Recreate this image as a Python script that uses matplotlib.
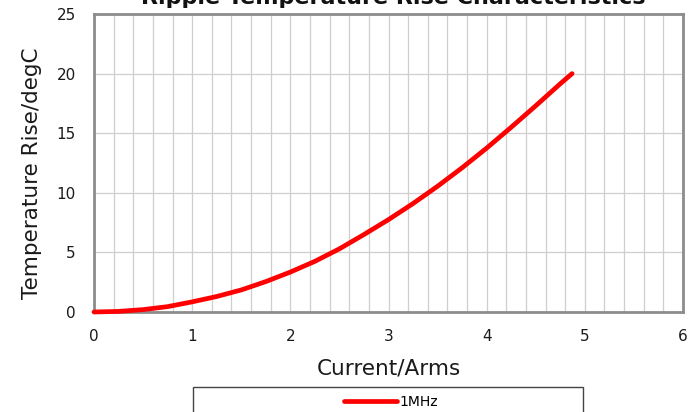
import matplotlib
matplotlib.use("Agg")
import matplotlib.pyplot as plt
from matplotlib.patches import Rectangle
import numpy as np

current = [0, 0.25, 0.5, 0.75, 1.0, 1.25, 1.5, 1.75, 2.0, 2.25, 2.5, 2.75,
           3.0, 3.25, 3.5, 3.75, 4.0, 4.25, 4.5, 4.75, 4.87]
temp_rise = [0, 0.05, 0.2, 0.45, 0.85, 1.3, 1.85, 2.55, 3.35, 4.25, 5.3, 6.5,
             7.75, 9.1, 10.55, 12.1, 13.75, 15.5, 17.3, 19.15, 20.0]
series_name = "1MHz"
title = "Ripple Temperature Rise Characteristics"
xlabel = "Current/Arms"
ylabel = "Temperature Rise/degC"

plt.rcParams['font.family'] = ['DejaVu Sans']

fig = plt.figure(figsize=(6.92, 4.12), dpi=100)
ax = fig.add_axes([94/692, 1 - 312/412, (683-94)/692, (312-14)/412])

ax.plot(current, temp_rise, color='#ff0000', lw=3.4, solid_capstyle='round',
        solid_joinstyle='round', label=series_name, zorder=3, clip_on=False)

ax.set_xlim(0, 6)
ax.set_ylim(0, 25)
ax.set_xticks(np.arange(0, 7, 1))
ax.set_yticks(np.arange(0, 30, 5))
ax.set_xticks(np.arange(0, 6.01, 0.2), minor=True)
ax.grid(which='major', axis='y', color='#cfcfcf', lw=0.9)
ax.grid(which='both', axis='x', color='#cfcfcf', lw=0.9)
ax.tick_params(which='both', length=0, labelsize=11, colors='#1a1a1a')
ax.tick_params(axis='x', pad=12)
ax.tick_params(axis='y', pad=13)
for s in ax.spines.values():
    s.set_color('#8c8c8c')
    s.set_linewidth(2)

ax.set_xlabel(xlabel, fontsize=15.5, color='#1a1a1a')
ax.set_ylabel(ylabel, fontsize=15.5, color='#1a1a1a')
ax.xaxis.set_label_coords(0.5, -0.155)
ax.yaxis.set_label_coords(-0.088, 0.465)

fig.text(393/692, 1 - 3.5/412, title, ha='center', va='baseline',
         fontsize=16, fontweight='bold', color='#111111')

rect = Rectangle((193/692, -0.2), (583-193)/692, 0.2 + (412-387)/412,
                 transform=fig.transFigure, fill=False, edgecolor='#444444',
                 lw=1.0, clip_on=False)
fig.add_artist(rect)
fig.legend(loc='center', bbox_to_anchor=(391/692, 1 - 402/412), frameon=False,
           fontsize=10, handlelength=3.8, handletextpad=0.2)

fig.savefig("out.png", dpi=100)
